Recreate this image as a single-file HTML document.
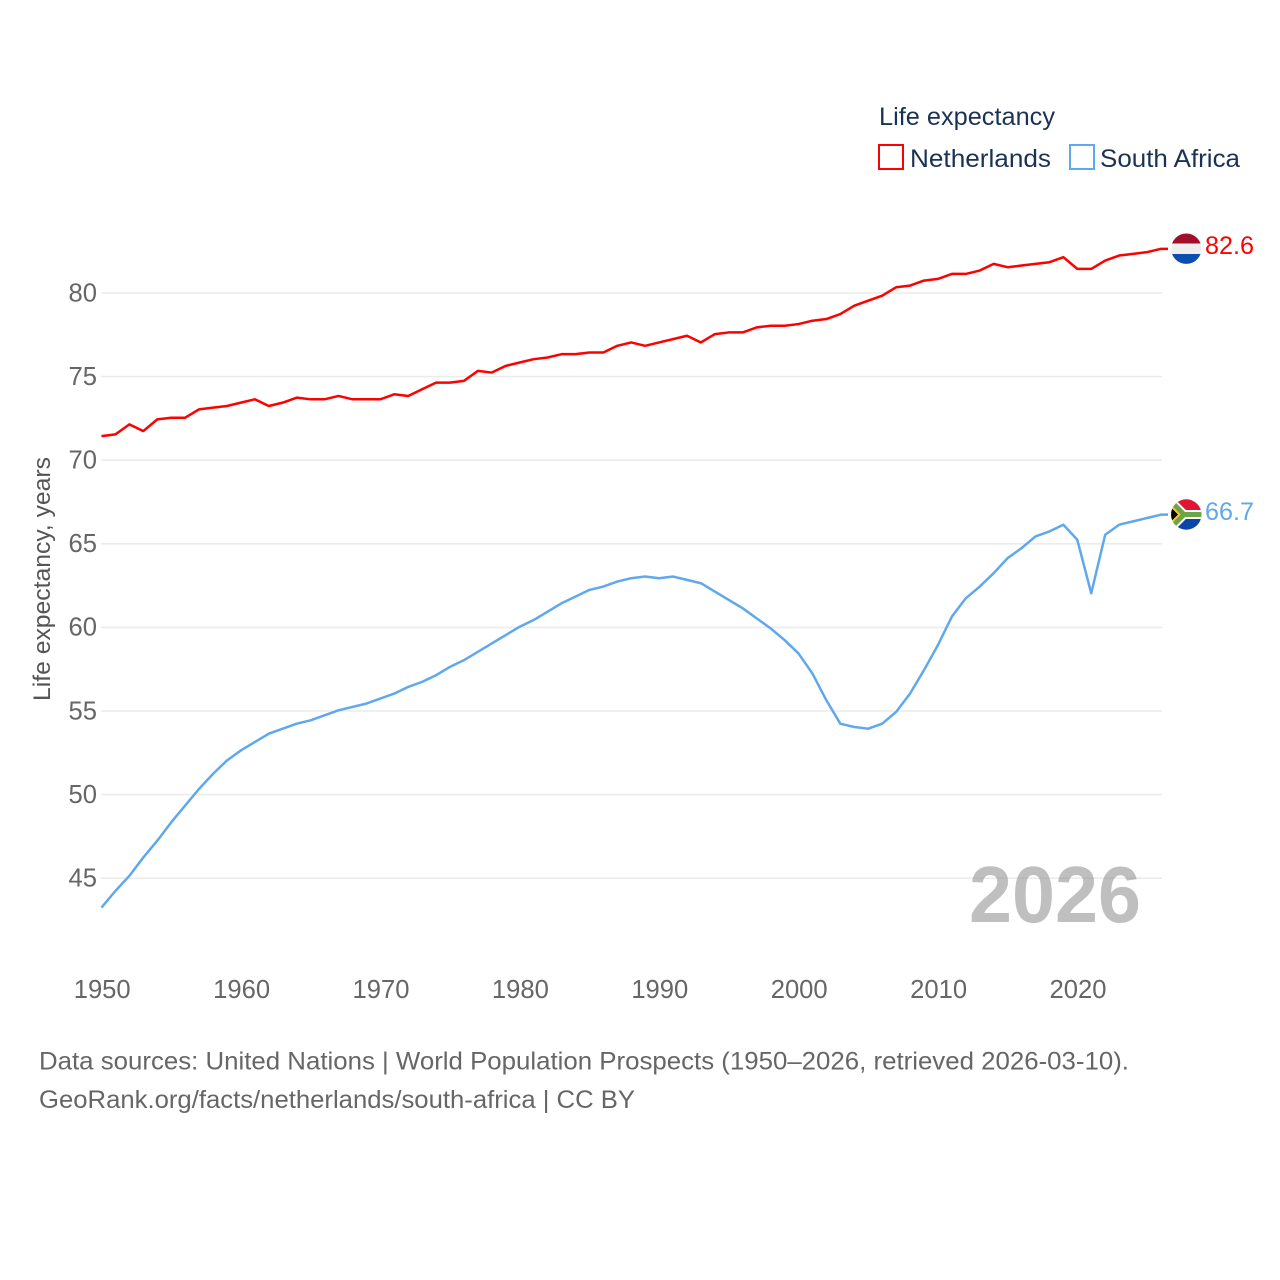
<!DOCTYPE html>
<html lang="en">
<head>
<meta charset="utf-8">
<title>Life expectancy: Netherlands and South Africa</title>
<style>
html,body{margin:0;padding:0;background:#fff;width:1280px;height:1280px;overflow:hidden}
svg{display:block;font-family:"Liberation Sans",sans-serif}
</style>
</head>
<body>
<svg id="chart" xmlns="http://www.w3.org/2000/svg" width="1280" height="1280" viewBox="0 0 1280 1280">
  <defs>
    <clipPath id="clip-nl"><circle cx="1186.3" cy="248.7" r="15.2"/></clipPath>
    <clipPath id="clip-za"><circle cx="1186.3" cy="514.5" r="15.2"/></clipPath>
  </defs>
  <g id="grid"></g>
  <g id="y-ticks"></g>
  <g id="x-ticks"></g>
  <text transform="translate(50,701) rotate(-90)" font-size="24" fill="#555" textLength="244" lengthAdjust="spacingAndGlyphs">Life expectancy, years</text>
  <text x="969" y="922" font-size="80" font-weight="700" fill="#808080" fill-opacity="0.5" textLength="172" lengthAdjust="spacingAndGlyphs">2026</text>
  <g id="series"></g>

  <g>
    <text x="879" y="125" font-size="25" fill="#1a3253" textLength="176" lengthAdjust="spacingAndGlyphs">Life expectancy</text>
    <rect x="879" y="145" width="24" height="24" fill="none" stroke="#ff0000" stroke-width="2"/>
    <text x="910" y="167" font-size="25" fill="#1a3253" textLength="141" lengthAdjust="spacingAndGlyphs">Netherlands</text>
    <rect x="1070" y="145" width="24" height="24" fill="none" stroke="#5fa8ee" stroke-width="2"/>
    <text x="1100" y="167" font-size="25" fill="#1a3253" textLength="140" lengthAdjust="spacingAndGlyphs">South Africa</text>
  </g>

  <g clip-path="url(#clip-nl)">
    <rect x="1170" y="233" width="33" height="10.5" fill="#a20d2c"/>
    <rect x="1170" y="243.5" width="33" height="10.5" fill="#eeeeee"/>
    <rect x="1170" y="254" width="33" height="10.5" fill="#0a4eb0"/>
  </g>
  <text x="1205" y="254" font-size="25" fill="#ff0000" textLength="49" lengthAdjust="spacingAndGlyphs">82.6</text>

  <g clip-path="url(#clip-za)">
    <rect x="1170" y="499" width="33" height="15.5" fill="#de1535"/>
    <rect x="1170" y="514.5" width="33" height="16" fill="#0b45a8"/>
    <path d="M1166 496.5 L1184 514.5 L1166 532.5 M1184 514.5 H1204" fill="none" stroke="#ffffff" stroke-width="9"/>
    <path d="M1166 496.5 L1184 514.5 L1166 532.5 M1184 514.5 H1204" fill="none" stroke="#6da544" stroke-width="5"/>
    <path d="M1168 502 L1180.5 514.5 L1168 527 Z" fill="#ffc72c"/>
    <path d="M1168 504.5 L1178 514.5 L1168 524.5 Z" fill="#000000"/>
  </g>
  <text x="1205" y="520" font-size="25" fill="#5fa8ee" textLength="49" lengthAdjust="spacingAndGlyphs">66.7</text>

  <text x="39" y="1069.5" font-size="25" fill="#666" textLength="1090" lengthAdjust="spacingAndGlyphs">Data sources: United Nations | World Population Prospects (1950–2026, retrieved 2026-03-10).</text>
  <text x="39" y="1108" font-size="25" fill="#666" textLength="596" lengthAdjust="spacingAndGlyphs">GeoRank.org/facts/netherlands/south-africa | CC BY</text>
</svg>
<script>
const firstYear = 1950;
const xTickLabels = [1950, 1960, 1970, 1980, 1990, 2000, 2010, 2020];
const yTickLabels = [45, 50, 55, 60, 65, 70, 75, 80];
const netherlandsValues = [
  71.4, 71.5, 72.1, 71.7, 72.4, 72.5, 72.5, 73.0, 73.1, 73.2,
  73.4, 73.6, 73.2, 73.4, 73.7, 73.6, 73.6, 73.8, 73.6, 73.6,
  73.6, 73.9, 73.8, 74.2, 74.6, 74.6, 74.7, 75.3, 75.2, 75.6,
  75.8, 76.0, 76.1, 76.3, 76.3, 76.4, 76.4, 76.8, 77.0, 76.8,
  77.0, 77.2, 77.4, 77.0, 77.5, 77.6, 77.6, 77.9, 78.0, 78.0,
  78.1, 78.3, 78.4, 78.7, 79.2, 79.5, 79.8, 80.3, 80.4, 80.7,
  80.8, 81.1, 81.1, 81.3, 81.7, 81.5, 81.6, 81.7, 81.8, 82.1,
  81.4, 81.4, 81.9, 82.2, 82.3, 82.4, 82.6
];
const southAfricaValues = [
  43.2, 44.2, 45.1, 46.2, 47.2, 48.3, 49.3, 50.3, 51.2, 52.0,
  52.6, 53.1, 53.6, 53.9, 54.2, 54.4, 54.7, 55.0, 55.2, 55.4,
  55.7, 56.0, 56.4, 56.7, 57.1, 57.6, 58.0, 58.5, 59.0, 59.5,
  60.0, 60.4, 60.9, 61.4, 61.8, 62.2, 62.4, 62.7, 62.9, 63.0,
  62.9, 63.0, 62.8, 62.6, 62.1, 61.6, 61.1, 60.5, 59.9, 59.2,
  58.4, 57.2, 55.6, 54.2, 54.0, 53.9, 54.2, 54.9, 56.0, 57.4,
  58.9, 60.6, 61.7, 62.4, 63.2, 64.1, 64.7, 65.4, 65.7, 66.1,
  65.2, 62.0, 65.5, 66.1, 66.3, 66.5, 66.7
];

const SVG_NS = 'http://www.w3.org/2000/svg';
function xScale(year) { return 101.5 + (year - 1950) * 13.94; }
function yScale(value) { return 292.3 + (80 - value) * 16.72; }
function make(tag, attrs, parent) {
  const el = document.createElementNS(SVG_NS, tag);
  for (const k in attrs) el.setAttribute(k, attrs[k]);
  parent.appendChild(el);
  return el;
}

const gridGroup = document.getElementById('grid');
const yTickGroup = document.getElementById('y-ticks');
const xTickGroup = document.getElementById('x-ticks');
const seriesGroup = document.getElementById('series');

yTickLabels.forEach(function (v) {
  const gy = yScale(v) + 0.7;
  const line = make('line', { x1: 101, x2: 1162, y1: gy, y2: gy, stroke: '#ececec', 'stroke-width': 1.6 }, gridGroup);
  
  
  const label = make('text', { x: 97, y: yScale(v) + 9, 'text-anchor': 'end', 'font-size': 25.6, fill: '#666' }, yTickGroup);
  
  
  label.textContent = v;
});

xTickLabels.forEach(function (y) {
  const label = make('text', { x: xScale(y) + 0.7, y: 998, 'text-anchor': 'middle', 'font-size': 25.6, fill: '#666' }, xTickGroup);
  
  
  label.textContent = y;
});

function drawSeries(values, color) {
  const pts = values.map(function (v, i) { return xScale(firstYear + i).toFixed(2) + ',' + yScale(v).toFixed(2); });
  const lastY = yScale(values[values.length - 1]).toFixed(2);
  pts.push('1168,' + lastY);
  return make('polyline', { points: pts.join(' '), fill: 'none', stroke: color, 'stroke-width': 2.5, 'stroke-linejoin': 'round' }, seriesGroup);
}
const netherlandsLine = drawSeries(netherlandsValues, '#ff0000');


const southAfricaLine = drawSeries(southAfricaValues, '#5fa8ee');


</script>
</body>
</html>
